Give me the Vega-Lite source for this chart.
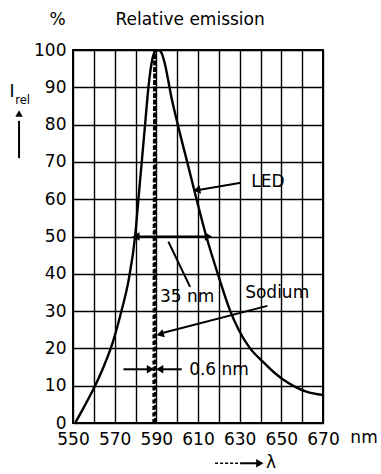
{
  "$schema": "https://vega.github.io/schema/vega-lite/v6.json",
  "autosize": {"type": "none"},
  "width": 250,
  "height": 373,
  "padding": {"left": 73, "top": 50, "right": 58, "bottom": 51},
  "background": "white",
  "config": {
    "font": "DejaVu Sans",
    "view": {"stroke": "black", "strokeWidth": 2},
    "axis": {
      "labelFont": "DejaVu Sans",
      "labelFontSize": 17,
      "labelColor": "black",
      "ticks": false,
      "domain": false,
      "grid": true,
      "gridColor": "black",
      "gridWidth": 1.4,
      "gridOpacity": 1,
      "title": null,
      "labelOverlap": false,
      "labelFlush": false
    }
  },
  "datasets": {
    "led": [
      {"wl": 551, "rel": 0},
      {"wl": 555, "rel": 4},
      {"wl": 560, "rel": 9.3},
      {"wl": 565, "rel": 15.5},
      {"wl": 569, "rel": 21.5},
      {"wl": 573, "rel": 29.5},
      {"wl": 576.7, "rel": 38.3},
      {"wl": 579.8, "rel": 50},
      {"wl": 581.4, "rel": 60},
      {"wl": 583, "rel": 70},
      {"wl": 584.6, "rel": 80},
      {"wl": 586.2, "rel": 90},
      {"wl": 587.3, "rel": 95},
      {"wl": 588.7, "rel": 98.8},
      {"wl": 589.8, "rel": 99.8},
      {"wl": 591, "rel": 100},
      {"wl": 592.5, "rel": 99.2},
      {"wl": 594, "rel": 96.5},
      {"wl": 595.5, "rel": 92.5},
      {"wl": 597, "rel": 88},
      {"wl": 600.3, "rel": 80},
      {"wl": 604.8, "rel": 70},
      {"wl": 609.3, "rel": 60},
      {"wl": 614, "rel": 50},
      {"wl": 619.5, "rel": 40},
      {"wl": 625.5, "rel": 30},
      {"wl": 629.5, "rel": 25},
      {"wl": 635, "rel": 20},
      {"wl": 641, "rel": 16.5},
      {"wl": 646, "rel": 13.8},
      {"wl": 651, "rel": 11.6},
      {"wl": 656, "rel": 9.9},
      {"wl": 662, "rel": 8.4},
      {"wl": 670, "rel": 7.5}
    ],
    "sodium": [
      {"wl": 588.8, "rel": 0},
      {"wl": 589.0, "rel": 60},
      {"wl": 589.2, "rel": 100},
      {"wl": 589.4, "rel": 60},
      {"wl": 589.6, "rel": 0}
    ],
    "leaders": [
      {"name": "led", "wl": 630.6, "rel": 64.4, "wl2": 609.5, "rel2": 62.4},
      {"name": "sodium", "wl": 643.3, "rel": 31.4, "wl2": 592, "rel2": 24.0},
      {"name": "fwhm", "wl": 580, "rel": 50, "wl2": 615, "rel2": 50},
      {"name": "fwhm-label", "wl": 595.8, "rel": 48.6, "wl2": 606.2, "rel2": 36.5},
      {"name": "na-left", "wl": 574.2, "rel": 14.4, "wl2": 587, "rel2": 14.4},
      {"name": "na-right", "wl": 602.2, "rel": 14.4, "wl2": 591.8, "rel2": 14.4},
      {"name": "lambda", "wl": 630.2, "rel": -10.8, "wl2": 639, "rel2": -10.8},
      {"name": "irel", "wl": 524.1, "rel": 71, "wl2": 524.1, "rel2": 81}
    ],
    "dashedLeaders": [
      {"name": "lambda-tail", "wl": 618.2, "rel": -10.8, "wl2": 630.2, "rel2": -10.8}
    ],
    "heads": [
      {"dir": "left", "wl": 580.8, "rel": 50},
      {"dir": "right", "wl": 614.4, "rel": 50},
      {"dir": "right", "wl": 586.6, "rel": 14.4},
      {"dir": "left", "wl": 592.2, "rel": 14.4},
      {"dir": "right", "wl": 639.1, "rel": -10.8},
      {"dir": "up", "wl": 524.1, "rel": 82.7},
      {"dir": "led", "wl": 610, "rel": 62.5},
      {"dir": "sodium", "wl": 592.4, "rel": 23.9}
    ],
    "labels": [
      {"text": "%", "wl": 542.6, "rel": 108},
      {"text": "Relative emission", "wl": 606.2, "rel": 108},
      {"text": "LED", "wl": 643.6, "rel": 64.7},
      {"text": "35 nm", "wl": 604.8, "rel": 33.9},
      {"text": "Sodium", "wl": 648, "rel": 34.9},
      {"text": "0.6 nm", "wl": 620.1, "rel": 14.2},
      {"text": "nm", "wl": 689.7, "rel": -4},
      {"text": "λ", "wl": 645, "rel": -10.6},
      {"text": "I", "wl": 520.7, "rel": 88.8}
    ],
    "subscripts": [
      {"text": "rel", "wl": 525.8, "rel": 86.4}
    ]
  },
  "encoding": {
    "x": {
      "field": "wl", "type": "quantitative",
      "scale": {"domain": [550, 670], "nice": false, "zero": false},
      "axis": {
        "values": [550, 560, 570, 580, 590, 600, 610, 620, 630, 640, 650, 660, 670],
        "labelExpr": "datum.value % 20 == 10 ? datum.label : ''",
        "labelPadding": 8
      }
    },
    "y": {
      "field": "rel", "type": "quantitative",
      "scale": {"domain": [0, 100], "nice": false},
      "axis": {
        "values": [0, 10, 20, 30, 40, 50, 60, 70, 80, 90, 100],
        "labelPadding": 7
      }
    }
  },
  "layer": [
    {
      "data": {"name": "led"},
      "mark": {"type": "line", "color": "black", "strokeWidth": 2.4, "interpolate": "monotone", "clip": true}
    },
    {
      "data": {"name": "sodium"},
      "mark": {"type": "line", "color": "black", "strokeWidth": 3, "strokeDash": [4, 2.5]}
    },
    {
      "data": {"name": "leaders"},
      "mark": {"type": "rule", "color": "black", "strokeWidth": 2},
      "encoding": {
        "x2": {"field": "wl2"},
        "y2": {"field": "rel2"}
      }
    },
    {
      "data": {"name": "dashedLeaders"},
      "mark": {"type": "rule", "color": "black", "strokeWidth": 1.5, "strokeDash": [3, 2]},
      "encoding": {
        "x2": {"field": "wl2"},
        "y2": {"field": "rel2"}
      }
    },
    {
      "data": {"name": "heads"},
      "transform": [{"filter": "datum.dir == 'left'"}],
      "mark": {"type": "point", "shape": "triangle", "angle": 270, "filled": true, "color": "black", "opacity": 1, "size": 70}
    },
    {
      "data": {"name": "heads"},
      "transform": [{"filter": "datum.dir == 'right'"}],
      "mark": {"type": "point", "shape": "triangle", "angle": 90, "filled": true, "color": "black", "opacity": 1, "size": 70}
    },
    {
      "data": {"name": "heads"},
      "transform": [{"filter": "datum.dir == 'up'"}],
      "mark": {"type": "point", "shape": "triangle", "angle": 0, "filled": true, "color": "black", "opacity": 1, "size": 55}
    },
    {
      "data": {"name": "heads"},
      "transform": [{"filter": "datum.dir == 'led'"}],
      "mark": {"type": "point", "shape": "triangle", "angle": 262, "filled": true, "color": "black", "opacity": 1, "size": 70}
    },
    {
      "data": {"name": "heads"},
      "transform": [{"filter": "datum.dir == 'sodium'"}],
      "mark": {"type": "point", "shape": "triangle", "angle": 254, "filled": true, "color": "black", "opacity": 1, "size": 70}
    },
    {
      "data": {"name": "labels"},
      "mark": {"type": "text", "font": "DejaVu Sans", "fontSize": 17, "color": "black", "align": "center", "baseline": "middle"},
      "encoding": {"text": {"field": "text"}}
    },
    {
      "data": {"name": "subscripts"},
      "mark": {"type": "text", "font": "DejaVu Sans", "fontSize": 11.5, "color": "black", "align": "center", "baseline": "middle"},
      "encoding": {"text": {"field": "text"}}
    }
  ]
}
